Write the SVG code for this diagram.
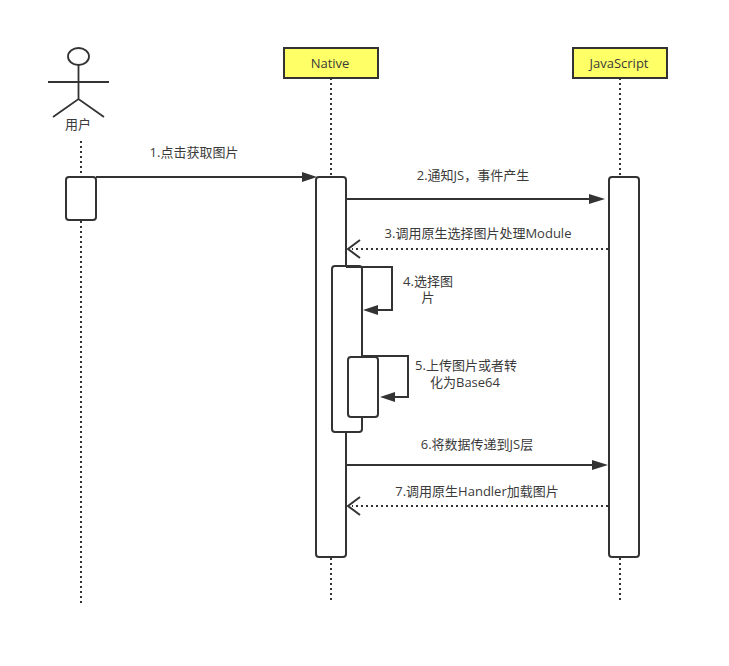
<svg xmlns="http://www.w3.org/2000/svg" width="729" height="666" viewBox="0 0 729 666">
<style>
text{font-family:"Open Sans","Noto Sans CJK SC",sans-serif;font-size:13px;fill:#3a3a3a;text-anchor:middle}
.b{fill:#fff;stroke:#333;stroke-width:2}
.h{fill:#ffff66;stroke:#333;stroke-width:2}
.l{fill:none;stroke:#333;stroke-width:2}
.d{fill:none;stroke:#333;stroke-width:2;stroke-dasharray:2 3}
.a{fill:#333}
.o{fill:none;stroke:#333;stroke-width:1.8}
</style>
<rect width="729" height="666" fill="#fff"/>
<g id="lifelines">
<path class="d" d="M81 141V176M81 221V603M331 78V176M331 558V603M620 78V176M620 558V603"/>
</g>
<g id="actor-user">
<ellipse class="o" cx="78.500" cy="56.500" rx="10.500" ry="8.500"/>
<path class="o" d="M78.500 65V99M48 82H109M53 117L78.500 99L104 117"/>
<text x="78" y="128.500">用户</text>
</g>
<g id="node-native">
<rect class="h" x="284" y="48" width="94" height="30"/>
<text x="330" y="67.500">Native</text>
</g>
<g id="node-javascript">
<rect class="h" x="573" y="48" width="94" height="30"/>
<text x="619" y="67.500">JavaScript</text>
</g>
<g id="activation-user"><rect class="b" x="66" y="177" width="30" height="43" rx="3"/></g>
<g id="activation-native"><rect class="b" x="316" y="177" width="30" height="380" rx="3"/></g>
<g id="activation-js"><rect class="b" x="609" y="177" width="30" height="380" rx="3"/></g>
<g id="activation-native-2"><rect class="b" x="332" y="266" width="30" height="166" rx="3"/></g>
<g id="activation-native-3"><rect class="b" x="348" y="357" width="30" height="60" rx="3"/></g>
<g id="connectors">
<path class="l" d="M96 177H303"/><path class="a" d="M302 172L317 177L302 182Z"/>
<path class="l" d="M346 199H591"/><path class="a" d="M589 194L605 199L589 204Z"/>
<path class="d" d="M608 249H352"/><path class="l" d="M360 240L348 249L360 258"/>
<path class="l" d="M346 267H392V310H376"/><path class="a" d="M378 305L363 310L378 315Z"/>
<path class="l" d="M362 356H408V397H393"/><path class="a" d="M395 392L380 397L395 402Z"/>
<path class="l" d="M346 465H594"/><path class="a" d="M592 460L608 465L592 470Z"/>
<path class="d" d="M608 506H352"/><path class="l" d="M360 497L348 506L360 515"/>
</g>
<g id="labels">
<text x="194" y="157">1.点击获取图片</text>
<text x="473" y="180">2.通知JS，事件产生</text>
<text x="478" y="237.500">3.调用原生选择图片处理Module</text>
<text x="428" y="285.500">4.选择图</text>
<text x="428" y="302">片</text>
<text x="466" y="369.500">5.上传图片或者转</text>
<text x="465" y="386.500">化为Base64</text>
<text x="477" y="449">6.将数据传递到JS层</text>
<text x="477" y="495.500">7.调用原生Handler加载图片</text>
</g>
</svg>
